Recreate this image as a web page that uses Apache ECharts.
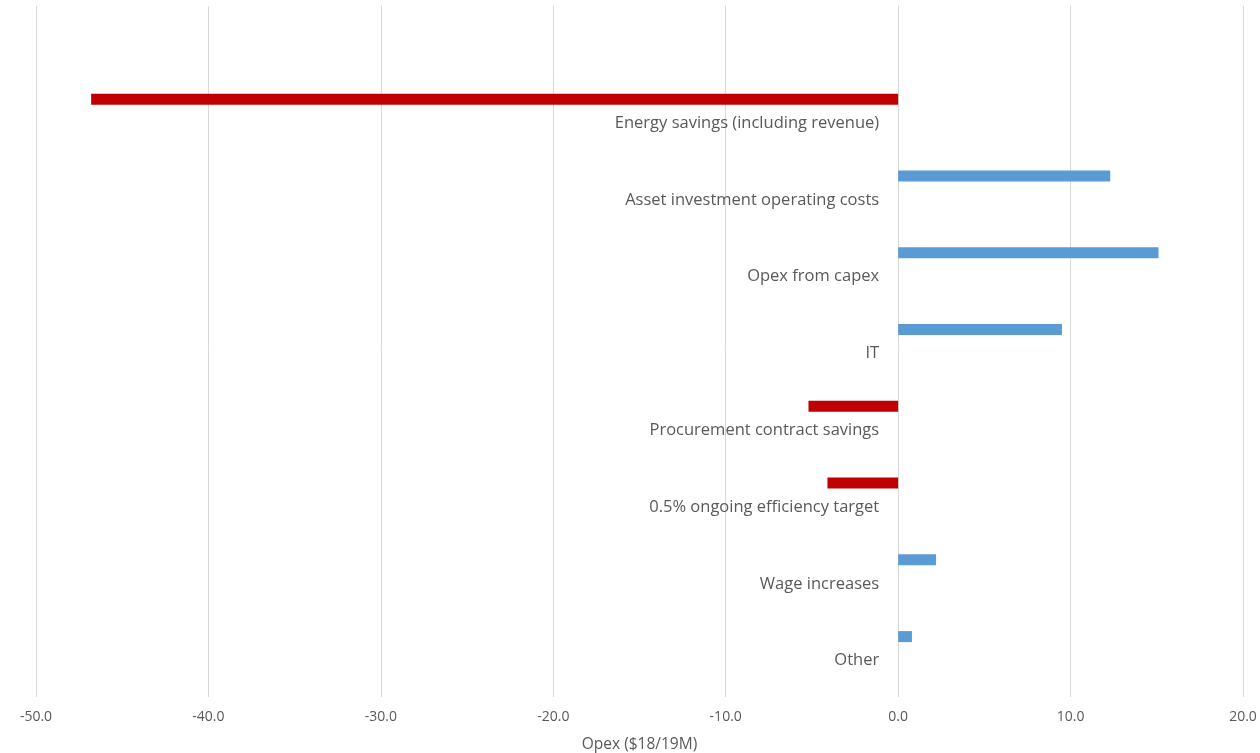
<!DOCTYPE html>
<html>
<head>
<meta charset="utf-8">
<script src="https://cdn.jsdelivr.net/npm/echarts@6/dist/echarts.min.js"></script>
<style>
  html, body { margin: 0; padding: 0; background: #ffffff; }
  #chart { width: 1260px; height: 753px; }
</style>
</head>
<body>
<div id="chart"></div>
<script>
// Opex drivers, top to bottom (first row is a blank spacer row)
const categories = [
  '',
  'Energy savings (including revenue)',
  'Asset investment operating costs',
  'Opex from capex',
  'IT',
  'Procurement contract savings',
  '0.5% ongoing efficiency target',
  'Wage increases',
  'Other'
];
// Change in opex, $18/19M
const opexChange = [null, -46.8, 12.3, 15.1, 9.5, -5.2, -4.1, 2.2, 0.8];

const RED = '#C00000';
const BLUE = '#5B9BD5';
const TEXT = '#595959';
const FONT = '"Open Sans", "Noto Sans", sans-serif';

const chart = echarts.init(document.getElementById('chart'), null, { renderer: 'canvas' });

chart.setOption({
  backgroundColor: '#ffffff',
  animation: false,
  grid: { left: 36, right: 17, top: 6, bottom: 56, containLabel: false, outerBoundsMode: 'none' },
  xAxis: {
    type: 'value',
    min: -50,
    max: 20,
    interval: 10,
    name: 'Opex ($18/19M)',
    nameLocation: 'middle',
    nameGap: 40,
    nameTextStyle: { color: TEXT, fontSize: 15.5, fontFamily: FONT },
    axisLine: { show: false },
    axisTick: { show: false },
    axisLabel: {
      color: TEXT, fontSize: 14, fontFamily: FONT, margin: 13,
      formatter: v => v.toFixed(1)
    },
    splitLine: { show: true, lineStyle: { color: '#D9D9D9', width: 1 } }
  },
  yAxis: {
    type: 'category',
    data: categories,
    inverse: true,
    axisLine: { show: false },
    axisTick: { show: false },
    axisLabel: { show: false },
    splitLine: { show: false }
  },
  series: [
    {
      name: 'Opex change',
      type: 'bar',
      barWidth: 11,
      barGap: '100%',
      data: opexChange.map(v => v === null ? null : {
        value: v,
        itemStyle: { color: v < 0 ? RED : BLUE }
      })
    },
    {
      // zero-length bars carrying the category names, anchored at 0 on the value axis
      name: 'labels',
      type: 'bar',
      barWidth: 11,
      barGap: '100%',
      silent: true,
      itemStyle: { color: 'rgba(0,0,0,0)' },
      data: categories.map(c => c === '' ? null : 0),
      label: {
        show: true,
        position: 'left',
        distance: 19,
        offset: [0, 2],
        color: TEXT,
        fontSize: 16.5,
        fontFamily: FONT,
        formatter: p => p.name
      }
    },
    {
      // empty companion series: keeps the bars in the upper slot of each row
      name: 'spacer',
      type: 'bar',
      barWidth: 11,
      barGap: '100%',
      silent: true,
      data: categories.map(() => null)
    }
  ]
});
</script>
</body>
</html>
